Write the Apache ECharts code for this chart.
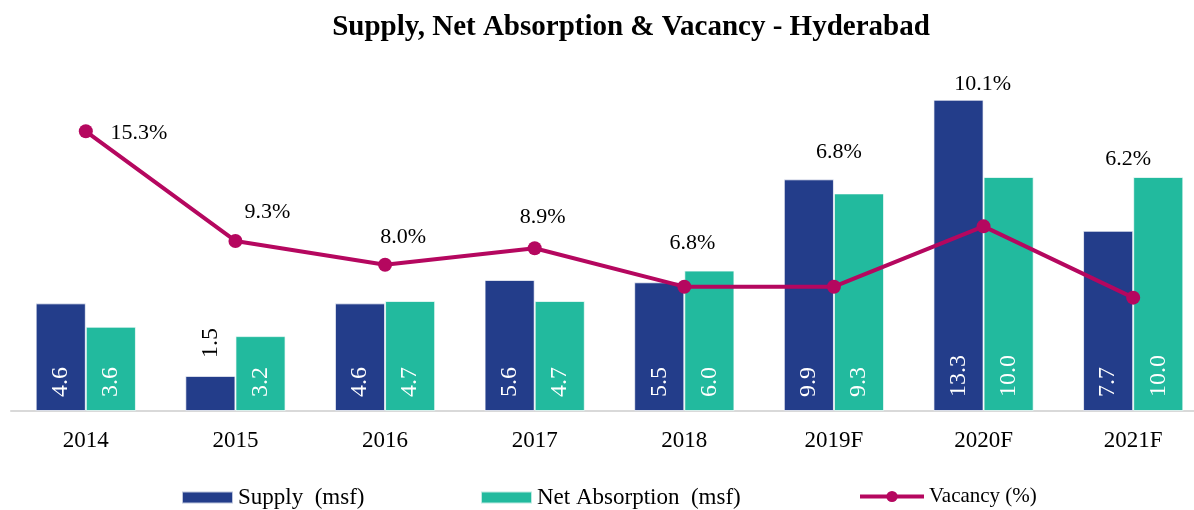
<!DOCTYPE html>
<html>
<head>
<meta charset="utf-8">
<script src="https://cdn.jsdelivr.net/npm/echarts@6/dist/echarts.min.js"></script>
<style>
  html, body { margin: 0; padding: 0; background: #fff; }
  #chart { width: 1194px; height: 510px; }
</style>
</head>
<body>
<div id="chart"></div>
<script>
const years = ["2014", "2015", "2016", "2017", "2018", "2019F", "2020F", "2021F"];
const supply = [4.6, 1.5, 4.6, 5.6, 5.5, 9.9, 13.3, 7.7];
const netAbsorption = [3.6, 3.2, 4.7, 4.7, 6.0, 9.3, 10.0, 10.0];
const vacancy = [15.3, 9.3, 8.0, 8.9, 6.8, 6.8, 10.1, 6.2];

// where the vacancy labels were dragged to in the original (px from the point)
const vacancyLabelShift = [
  [53, 2], [32, -29], [18, -28], [8, -31], [8, -43], [5, -134], [-1, -142], [-5, -138]
];

const font = "'Liberation Serif', 'Times New Roman', serif";
const navy = "#233D8A";
const teal = "#22BA9E";
const crimson = "#B5075F";

const chart = echarts.init(document.getElementById("chart"));

const barLabel = {
  show: true,
  position: "insideBottom",
  rotate: 90,
  align: "left",
  verticalAlign: "middle",
  distance: 14,
  color: "#fff",
  fontFamily: font,
  fontSize: 24,
  formatter: p => p.value.toFixed(1)
};

const supplyData = supply.map(v => {
  // small bar: label sits above it in black
  if (v < 2) {
    return {
      value: v,
      label: { position: "top", distance: 18, color: "#000" }
    };
  }
  return v;
});

const vacancyData = vacancy.map((v, i) => ({
  value: v,
  label: { offset: vacancyLabelShift[i] }
}));

const legendText = { fontFamily: font, fontSize: 23, color: "#000" };

const option = {
  animation: false,
  title: {
    text: "Supply, Net Absorption & Vacancy - Hyderabad",
    left: 626,
    top: 8,
    textAlign: "center",
    textStyle: { fontFamily: font, fontSize: 29, fontWeight: "bold", color: "#000" }
  },
  legend: [
    {
      data: [{ name: "Supply  (msf)", icon: "rect" }],
      left: 181, top: 486, padding: 0,
      itemWidth: 51, itemHeight: 12, itemGap: 4,
      textStyle: legendText
    },
    {
      data: [{ name: "Net Absorption  (msf)", icon: "rect" }],
      left: 480, top: 486, padding: 0,
      itemWidth: 51, itemHeight: 12,
      textStyle: legendText
    },
    {
      data: ["Vacancy (%)"],
      left: 858, top: 486, padding: 0,
      itemWidth: 64, itemHeight: 14,
      lineStyle: { width: 4 },
      textStyle: Object.assign({}, legendText, { fontSize: 21 })
    }
  ],
  grid: {
    left: 11,
    right: -14,
    top: 60,
    bottom: 99,
    outerBoundsMode: "none"
  },
  xAxis: {
    type: "category",
    data: years,
    axisLine: { lineStyle: { color: "#d9d9d9", width: 2 } },
    axisTick: { show: false },
    axisLabel: { fontFamily: font, fontSize: 23, color: "#000", margin: 18 }
  },
  yAxis: [
    { type: "value", min: 0, max: 15, show: false },
    { type: "value", min: 0, max: 19.2, show: false }
  ],
  series: [
    {
      name: "Supply  (msf)",
      type: "bar",
      data: supplyData,
      barGap: "0%",
      barCategoryGap: "33%",
      itemStyle: { color: navy, borderColor: "rgba(255,255,255,0.7)", borderWidth: 1 },
      label: barLabel
    },
    {
      name: "Net Absorption  (msf)",
      type: "bar",
      data: netAbsorption,
      itemStyle: { color: teal, borderColor: "rgba(255,255,255,0.7)", borderWidth: 1 },
      label: barLabel
    },
    {
      name: "Vacancy (%)",
      type: "line",
      yAxisIndex: 1,
      data: vacancyData,
      symbol: "circle",
      symbolSize: 14,
      lineStyle: { color: crimson, width: 4 },
      itemStyle: { color: crimson },
      label: {
        show: true,
        position: "inside",
        color: "#000",
        fontFamily: font,
        fontSize: 22,
        formatter: p => p.value.toFixed(1) + "%"
      },
      z: 5
    }
  ]
};

chart.setOption(option);
</script>
</body>
</html>
